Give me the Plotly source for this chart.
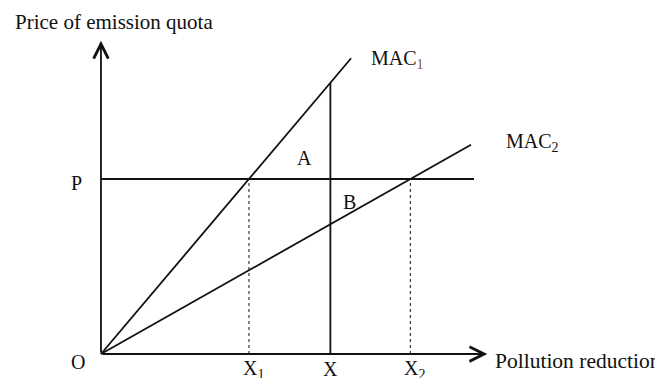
import plotly.graph_objects as go

# abatement levels (x) and quota price (y), in chart units
x1 = 1.0
x_mid = 1.55
x2 = 2.09
p_level = 1.0

# marginal abatement cost curves (straight lines from the origin)
mac1_x = [0, 1.69]
mac1_y = [0, 1.69]
mac2_x = [0, 2.5]
mac2_y = [0, 1.196]

# axis extents
x_axis_end = 2.61
y_axis_end = 1.79
p_line_end = 2.52

FONT = "Liberation Serif"
BLACK = "#111111"

fig = go.Figure()

def seg(xs, ys, dash="solid", width=1.8):
    fig.add_trace(go.Scatter(x=xs, y=ys, mode="lines", hoverinfo="skip",
                             line=dict(color=BLACK, width=width, dash=dash)))

# curves
seg(mac1_x, mac1_y)
seg(mac2_x, mac2_y)
# price line P
seg([0, p_line_end], [p_level, p_level])
# X vertical line up to MAC1
seg([x_mid, x_mid], [0, x_mid * mac1_y[1] / mac1_x[1]])
# dotted drop lines
seg([x1, x1], [0, p_level], dash="dot", width=1)
seg([x2, x2], [0, p_level], dash="dot", width=1)

# axes as arrows
for tip in [(x_axis_end, 0), (0, y_axis_end)]:
    fig.add_annotation(x=tip[0], y=tip[1], ax=0, ay=0, xref="x", yref="y",
                       axref="x", ayref="y", text="", showarrow=True,
                       arrowhead=5, arrowsize=1.6, arrowwidth=1.8, arrowcolor=BLACK)

def label(x, y, text, xanchor="center", size=20):
    fig.add_annotation(x=x, y=y, text=text, showarrow=False, xanchor=xanchor,
                       yanchor="middle", font=dict(family=FONT, size=size, color=BLACK))

label(-0.595, 1.897, "Price of emission quota", xanchor="left", size=21)
label(2.65, -0.04, "Pollution reduction", xanchor="left", size=21.5)
label(-0.165, p_level - 0.023, "P")
label(-0.155, -0.046, "O")
label(x1 + 0.03, -0.088, "X<sub>1</sub>")
label(x_mid, -0.088, "X")
label(x2 + 0.03, -0.088, "X<sub>2</sub>")
label(1.81, 1.68, "MAC<span style='color:#8a5050'><sub>1</sub></span>", xanchor="left")
label(2.72, 1.211, "MAC<sub>2</sub>", xanchor="left")
label(1.378, 1.12, "A")
label(1.68, 0.869, "B")

# the page body adds an 8px margin, so the figure is sized/ranged to fit the window
fig.update_layout(
    width=655, height=370,
    margin=dict(l=0, r=0, t=0, b=0),
    paper_bgcolor="white", plot_bgcolor="white",
    showlegend=False,
    xaxis=dict(range=[-0.628, 3.797], visible=False, fixedrange=True),
    yaxis=dict(range=[-0.137, 1.977], visible=False, fixedrange=True),
)

fig.write_html("out.html", config={"displayModeBar": False})
